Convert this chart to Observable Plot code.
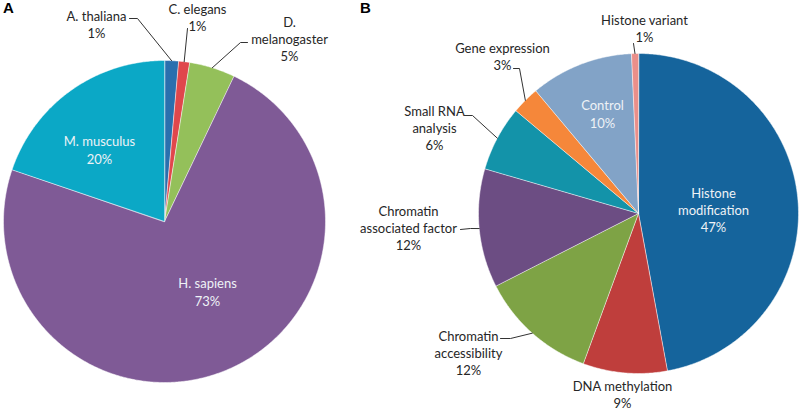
<!DOCTYPE html>
<html><head><meta charset="utf-8">
<script src="https://cdn.jsdelivr.net/npm/d3@7"></script>
<script src="https://cdn.jsdelivr.net/npm/@observablehq/plot@0.6"></script>
<style>html,body{margin:0;padding:0;background:#fff}</style>
</head><body><div id="chart"></div>
<script>
// ---- Data ----
const speciesNames  = ["A. thaliana", "C. elegans", "D. melanogaster", "H. sapiens", "M. musculus"];
const speciesLabels = ["A. thaliana\n1%", "C. elegans\n1%", "D.\nmelanogaster\n5%", "H. sapiens\n73%", "M. musculus\n20%"];
const speciesValues = [1.4, 1.1, 4.6, 73.1, 19.8];
const speciesColors = ["#2a6fae", "#e0474c", "#94c05a", "#7f5a96", "#0ba8c6"];

const assayNames  = ["Histone modification", "DNA methylation", "Chromatin accessibility", "Chromatin associated factor", "Small RNA analysis", "Gene expression", "Control", "Histone variant"];
const assayLabels = ["Histone\nmodification\n47%", "DNA methylation\n9%", "Chromatin\naccessibility\n12%", "Chromatin\nassociated factor\n12%", "Small RNA\nanalysis\n6%", "Gene expression\n3%", "Control\n10%", "Histone variant\n1%"];
const assayValues = [47.1, 8.5, 11.9, 12.0, 6.6, 2.8, 10.4, 0.7];
const assayColors = ["#15649c", "#bf3e3c", "#7ea345", "#6c4d83", "#1393a9", "#f5873a", "#82a3c7", "#ea8f8a"];

// ---- Layout ----
const W = 800, H = 411;
const pieA = {cx: 164, cy: 221, r: 161};
const pieB = {cx: 638, cy: 213, r: 160};
// label block centres, inside flag, leader polyline start points (elbows)
const speciesLayout = [
  {at: [96, 24],  inside: false, leader: [[129, 18], [137, 18]]},
  {at: [197, 17], inside: false, leader: [[187, 28]]},
  {at: [289, 38], inside: false, leader: [[247, 42], [240, 42]]},
  {at: [207, 291], inside: true},
  {at: [99, 149], inside: true}
];
const assayLayout = [
  {at: [713, 209], inside: true},
  {at: [622, 394], inside: false},
  {at: [468, 352], inside: false, leader: [[500, 338], [510, 338]]},
  {at: [408, 227], inside: false, leader: [[460, 229], [470, 228]]},
  {at: [434, 127], inside: false, leader: [[464, 115], [472, 115]]},
  {at: [502, 56],  inside: false, leader: [[513, 68], [519, 68]]},
  {at: [602, 113], inside: true},
  {at: [644, 28],  inside: false, leader: [[633, 43]]}
];

function buildPie(names, values, labels, layout, geom) {
  const arcs = d3.pie().sort(null).value(d => d)(values);
  const wedges = [], texts = [], leaders = [];
  arcs.forEach((a, i) => {
    const pt = (ang, rr) => [geom.cx + rr * Math.sin(ang), geom.cy - rr * Math.cos(ang)];
    const n = Math.max(2, Math.ceil((a.endAngle - a.startAngle) / (Math.PI / 360)));
    wedges.push({name: names[i], x: geom.cx, y: geom.cy});
    for (let k = 0; k <= n; k++) {
      const [x, y] = pt(a.startAngle + (a.endAngle - a.startAngle) * k / n, geom.r);
      wedges.push({name: names[i], x, y});
    }
    const L = layout[i];
    texts.push({label: labels[i], x: L.at[0], y: L.at[1], inside: L.inside});
    if (L.leader) {
      const mid = (a.startAngle + a.endAngle) / 2;
      const pts = [...L.leader, pt(mid, geom.r)];
      pts.forEach(([x, y]) => leaders.push({id: names[i], x, y}));
    }
  });
  return {wedges, texts, leaders};
}

const A = buildPie(speciesNames, speciesValues, speciesLabels, speciesLayout, pieA);
const B = buildPie(assayNames, assayValues, assayLabels, assayLayout, pieB);
const wedges = [...A.wedges, ...B.wedges];
const texts = [...A.texts, ...B.texts];
const leaders = [...A.leaders, ...B.leaders];
const panels = [{t: "A", x: 8, y: 8}, {t: "B", x: 365, y: 8}];

const chart = Plot.plot({
  width: W, height: H,
  margin: 0,
  x: {domain: [0, W], range: [0, W], axis: null},
  y: {domain: [0, H], range: [0, H], axis: null},
  color: {domain: [...speciesNames, ...assayNames], range: [...speciesColors, ...assayColors]},
  style: {fontFamily: "Lato, 'Open Sans', sans-serif", fontSize: "13px", background: "#fff"},
  marks: [
    Plot.line(wedges, {x: "x", y: "y", z: "name", fill: "name", stroke: "#fff", strokeWidth: 0.5, curve: "linear-closed"}),
    Plot.line(leaders, {x: "x", y: "y", z: "id", stroke: "#333", strokeWidth: 1}),
    Plot.text(texts.filter(d => !d.inside), {x: "x", y: "y", text: "label", fill: "#262626", fontSize: 13, lineHeight: 1.3, lineAnchor: "middle"}),
    Plot.text(texts.filter(d => d.inside), {x: "x", y: "y", text: "label", fill: "#eef2f6", fontSize: 13, lineHeight: 1.33, lineAnchor: "middle"}),
    Plot.text(panels, {x: "x", y: "y", text: "t", fontFamily: "Liberation Sans, Arial, sans-serif", fontWeight: "bold", fontSize: 15, fill: "#000"})
  ]
});
document.getElementById("chart").appendChild(chart);
</script>
</body></html>
